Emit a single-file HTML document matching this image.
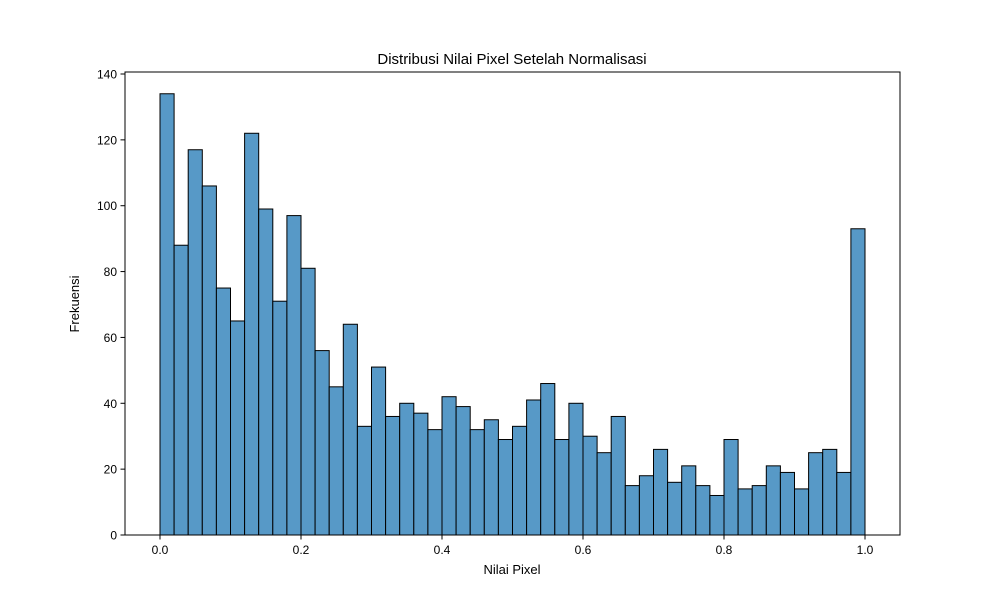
<!DOCTYPE html>
<html><head><meta charset="utf-8"><style>body{margin:0;background:#fff}svg{display:block;font-family:"Liberation Sans","DejaVu Sans",sans-serif}</style></head>
<body>
<svg id="chart" width="1000" height="600">
<rect x="0" y="0" width="1000" height="600" fill="#fff"/>
<text x="512" y="64" font-size="15" text-anchor="middle">Distribusi Nilai Pixel Setelah Normalisasi</text>
<g id="bars"></g>
<g id="xticks"></g>
<g id="yticks"></g>
<rect x="125" y="72" width="775" height="463" fill="none" stroke="#000" stroke-width="1"/>
<text x="512" y="574" font-size="13" text-anchor="middle">Nilai Pixel</text>
<text x="0" y="0" font-size="13" text-anchor="middle" transform="translate(79,304) rotate(-90)">Frekuensi</text>
</svg>
<script>
const counts = [134,88,117,106,75,65,122,99,71,97,81,56,45,64,33,51,36,40,37,32,42,39,32,35,29,33,41,46,29,40,30,25,36,15,18,26,16,21,15,12,29,14,15,21,19,14,25,26,19,93];
const binStart = 0, binEnd = 1;
const xTickValues = [0,0.2,0.4,0.6,0.8,1.0];
const xTickLabels = ["0.0","0.2","0.4","0.6","0.8","1.0"];
const yTickValues = [0,20,40,60,80,100,120,140];
const yTickLabels = ["0","20","40","60","80","100","120","140"];

const NS = "http://www.w3.org/2000/svg";
const xs = v => 160 + (v - 0) * 705;
const ys = v => 535 - v * (461 / 140);
const bw = (binEnd - binStart) / counts.length;

const bars = document.getElementById('bars');
counts.forEach((c, i) => {
  const r = document.createElementNS(NS, 'rect');
  const x0 = xs(binStart + i * bw), x1 = xs(binStart + (i + 1) * bw);
  r.setAttribute('x', x0); r.setAttribute('y', ys(c));
  r.setAttribute('width', x1 - x0); r.setAttribute('height', ys(0) - ys(c));
  r.setAttribute('fill', '#5799c7'); r.setAttribute('stroke', '#000'); r.setAttribute('stroke-width', '1');
  
  
  bars.appendChild(r);
});

const xg = document.getElementById('xticks');
xTickValues.forEach((v, i) => {
  const l = document.createElementNS(NS, 'line');
  l.setAttribute('x1', xs(v)); l.setAttribute('x2', xs(v));
  l.setAttribute('y1', 535); l.setAttribute('y2', 539.5); l.setAttribute('stroke', '#000');
  
  
  xg.appendChild(l);
  const t = document.createElementNS(NS, 'text');
  t.setAttribute('x', xs(v)); t.setAttribute('y', 554); t.setAttribute('font-size', '12');
  t.setAttribute('text-anchor', 'middle'); t.textContent = xTickLabels[i];
  
  
  xg.appendChild(t);
});

const yg = document.getElementById('yticks');
yTickValues.forEach((v, i) => {
  const l = document.createElementNS(NS, 'line');
  l.setAttribute('x1', 120.5); l.setAttribute('x2', 125);
  l.setAttribute('y1', ys(v)); l.setAttribute('y2', ys(v)); l.setAttribute('stroke', '#000');
  
  
  yg.appendChild(l);
  const t = document.createElementNS(NS, 'text');
  t.setAttribute('x', 117); t.setAttribute('y', ys(v) + 4.5); t.setAttribute('font-size', '12');
  t.setAttribute('text-anchor', 'end'); t.textContent = yTickLabels[i];
  
  
  yg.appendChild(t);
});
</script>
</body></html>
